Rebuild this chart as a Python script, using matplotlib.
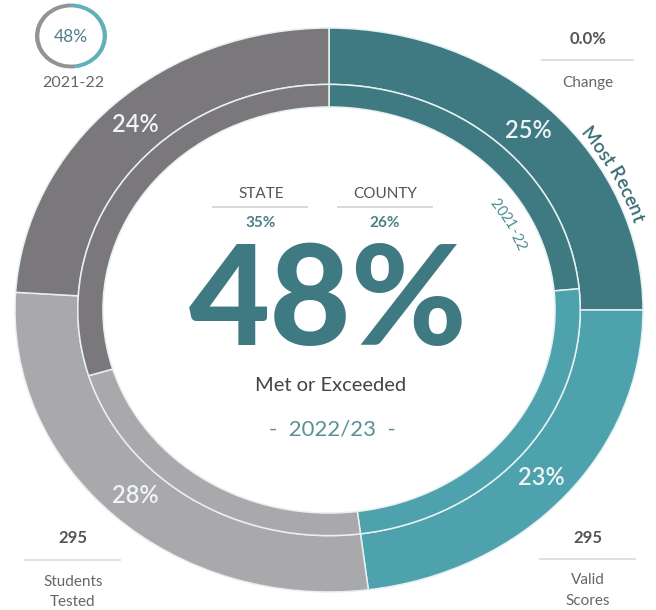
import numpy as np
import matplotlib
matplotlib.use('Agg')
import matplotlib.pyplot as plt
from matplotlib.font_manager import FontProperties
from matplotlib.textpath import TextToPath

plt.rcParams['font.family'] = ['Lato', 'DejaVu Sans']

# ---------------- data ----------------
current_values = [25, 23, 28, 24]          # outer ring (most recent)
previous_values = [23.5, 24.5, 22.3, 29.7]  # inner ring (2021-22)
ring_colors = ['#3f7a83', '#4da2ae', '#a9a8aa', '#7a787a']
headline_pct = 48
prior_pct = 48
prior_values = [48, 52]
prior_colors = ['#62b0ba', '#939393']
state_pct = 35
county_pct = 26
change_pct = 0.0
students_tested = 295
valid_scores = 295
current_year = '2022/23'
prior_year = '2021-22'

# ---------------- layout ----------------
W, H = 656, 610
fig = plt.figure(figsize=(W / 100, H / 100), dpi=100)
fig.patch.set_facecolor('white')

cx, cy = 329, 310      # donut centre (pixels, from top)
A, B = 314, 282        # horizontal / vertical outer radius (pixels)

ax = fig.add_axes([0, 0, 1, 1])
ax.pie(current_values, radius=1.0, startangle=90, counterclock=False,
       colors=ring_colors,
       wedgeprops=dict(width=0.2, edgecolor='#e6f1f2', linewidth=1.1),
       autopct=lambda p: f'{p:.0f}%', pctdistance=0.9,
       textprops=dict(color='#eef5f5', fontsize=17, fontweight='semibold'))
ax.pie(previous_values, radius=0.80, startangle=90, counterclock=False,
       colors=ring_colors,
       wedgeprops=dict(width=0.08, edgecolor='#e6f1f2', linewidth=1.1))
ax.set_aspect('auto')
ax.set_xlim((0 - cx) / A, (W - cx) / A)
ax.set_ylim((cy - H) / B, cy / B)
ax.axis('off')

# small prior-year donut (top-left)
scx, scy, sa, sb = 71, 36, 36, 32.5
sax = fig.add_axes([(scx - sa) / W, (H - scy - sb) / H, 2 * sa / W, 2 * sb / H])
sax.pie(prior_values, radius=1.0, startangle=90, counterclock=False,
        colors=prior_colors, wedgeprops=dict(width=0.12, linewidth=0))
sax.set_aspect('auto')
sax.set_xlim(-1, 1)
sax.set_ylim(-1, 1)
sax.axis('off')

# overlay for text, pixel coordinates (y from top)
ov = fig.add_axes([0, 0, 1, 1], facecolor='none')
ov.set_xlim(0, W)
ov.set_ylim(H, 0)
ov.axis('off')

t2p = TextToPath()


def arc_text(s, t_mid_deg, r, fontsize, color, weight='normal'):
    prop = FontProperties(family=['Lato', 'DejaVu Sans'], size=fontsize, weight=weight)
    widths = [t2p.get_text_width_height_descent(s[:i], prop, ismath=False)[0] if i else 0.0
              for i in range(len(s) + 1)]
    widths = np.array(widths) * 100 / 72.0  # points -> pixels
    centers = (widths[:-1] + widths[1:]) / 2 - widths[-1] / 2
    tt = np.radians(np.linspace(t_mid_deg + 60, t_mid_deg - 60, 2000))
    xs = A * r * np.cos(tt)
    ys = B * r * np.sin(tt)
    seg = np.hypot(np.diff(xs), np.diff(ys))
    arc = np.concatenate([[0], np.cumsum(seg)])
    i_mid = np.argmin(np.abs(tt - np.radians(t_mid_deg)))
    arc = arc - arc[i_mid]
    for ch, c in zip(s, centers):
        t = np.interp(c, arc, tt)
        x = cx + A * r * np.cos(t)
        y = cy - B * r * np.sin(t)
        rot = np.degrees(np.arctan2(-B * np.cos(t), A * np.sin(t)))
        ov.text(x, y, ch, fontproperties=prop, color=color, rotation=rot,
                rotation_mode='anchor', ha='center', va='baseline')


arc_text('Most Recent', 28.0, 1.015, 13.5, '#3a6d75', weight='semibold')
arc_text(prior_year, 28.0, 0.635, 10.5, '#4d8a93')

# centre texts
ov.text(261, 198.5, 'STATE', fontsize=11, color='#555555', ha='center', va='baseline')
ov.text(385, 198.5, 'COUNTY', fontsize=11, color='#555555', ha='center', va='baseline')
ov.plot([213, 307], [207, 207], color='#d5d5d5', lw=1.3)
ov.plot([338, 432], [207, 207], color='#d5d5d5', lw=1.3)
ov.text(261, 227, f'{state_pct}%', fontsize=11, fontweight='bold', color='#4a8088',
        ha='center', va='baseline')
ov.text(385, 227, f'{county_pct}%', fontsize=11, fontweight='bold', color='#4a8088',
        ha='center', va='baseline')
ov.text(328, 345, f'{headline_pct}%', fontsize=101, fontweight='black', color='#3f7a83',
        ha='center', va='baseline')
ov.text(331, 391, 'Met or Exceeded', fontsize=14.5, color='#444444', ha='center', va='baseline')
ov.text(332, 436, f'-  {current_year}  -', fontsize=16, color='#5d8f97',
        ha='center', va='baseline')

# top-left
ov.text(71, 42, f'{prior_pct}%', fontsize=12.5, color='#4d7f87', ha='center', va='baseline')
ov.text(73, 87, prior_year, fontsize=11.5, color='#666666', ha='center', va='baseline')

# top-right
ov.text(588, 43.5, f'{change_pct:.1f}%', fontsize=12, fontweight='bold', color='#555555',
        ha='center', va='baseline')
ov.plot([542, 633], [60, 60], color='#dcdcdc', lw=1.3)
ov.text(588, 87, 'Change', fontsize=11, color='#666666', ha='center', va='baseline')

# bottom-left
ov.text(73, 543, f'{students_tested}', fontsize=12, fontweight='bold', color='#555555',
        ha='center', va='baseline')
ov.plot([25, 120], [560, 560], color='#dcdcdc', lw=1.3)
ov.text(73, 585.5, 'Students', fontsize=11, color='#666666', ha='center', va='baseline')
ov.text(73, 605.5, 'Tested', fontsize=11, color='#666666', ha='center', va='baseline')

# bottom-right
ov.text(588, 543, f'{valid_scores}', fontsize=12, fontweight='bold', color='#555555',
        ha='center', va='baseline')
ov.plot([540, 635], [559, 559], color='#dcdcdc', lw=1.3)
ov.text(588, 583.5, 'Valid', fontsize=11, color='#666666', ha='center', va='baseline')
ov.text(588, 605, 'Scores', fontsize=11, color='#666666', ha='center', va='baseline')

fig.savefig('out.png', dpi=100, facecolor='white')
